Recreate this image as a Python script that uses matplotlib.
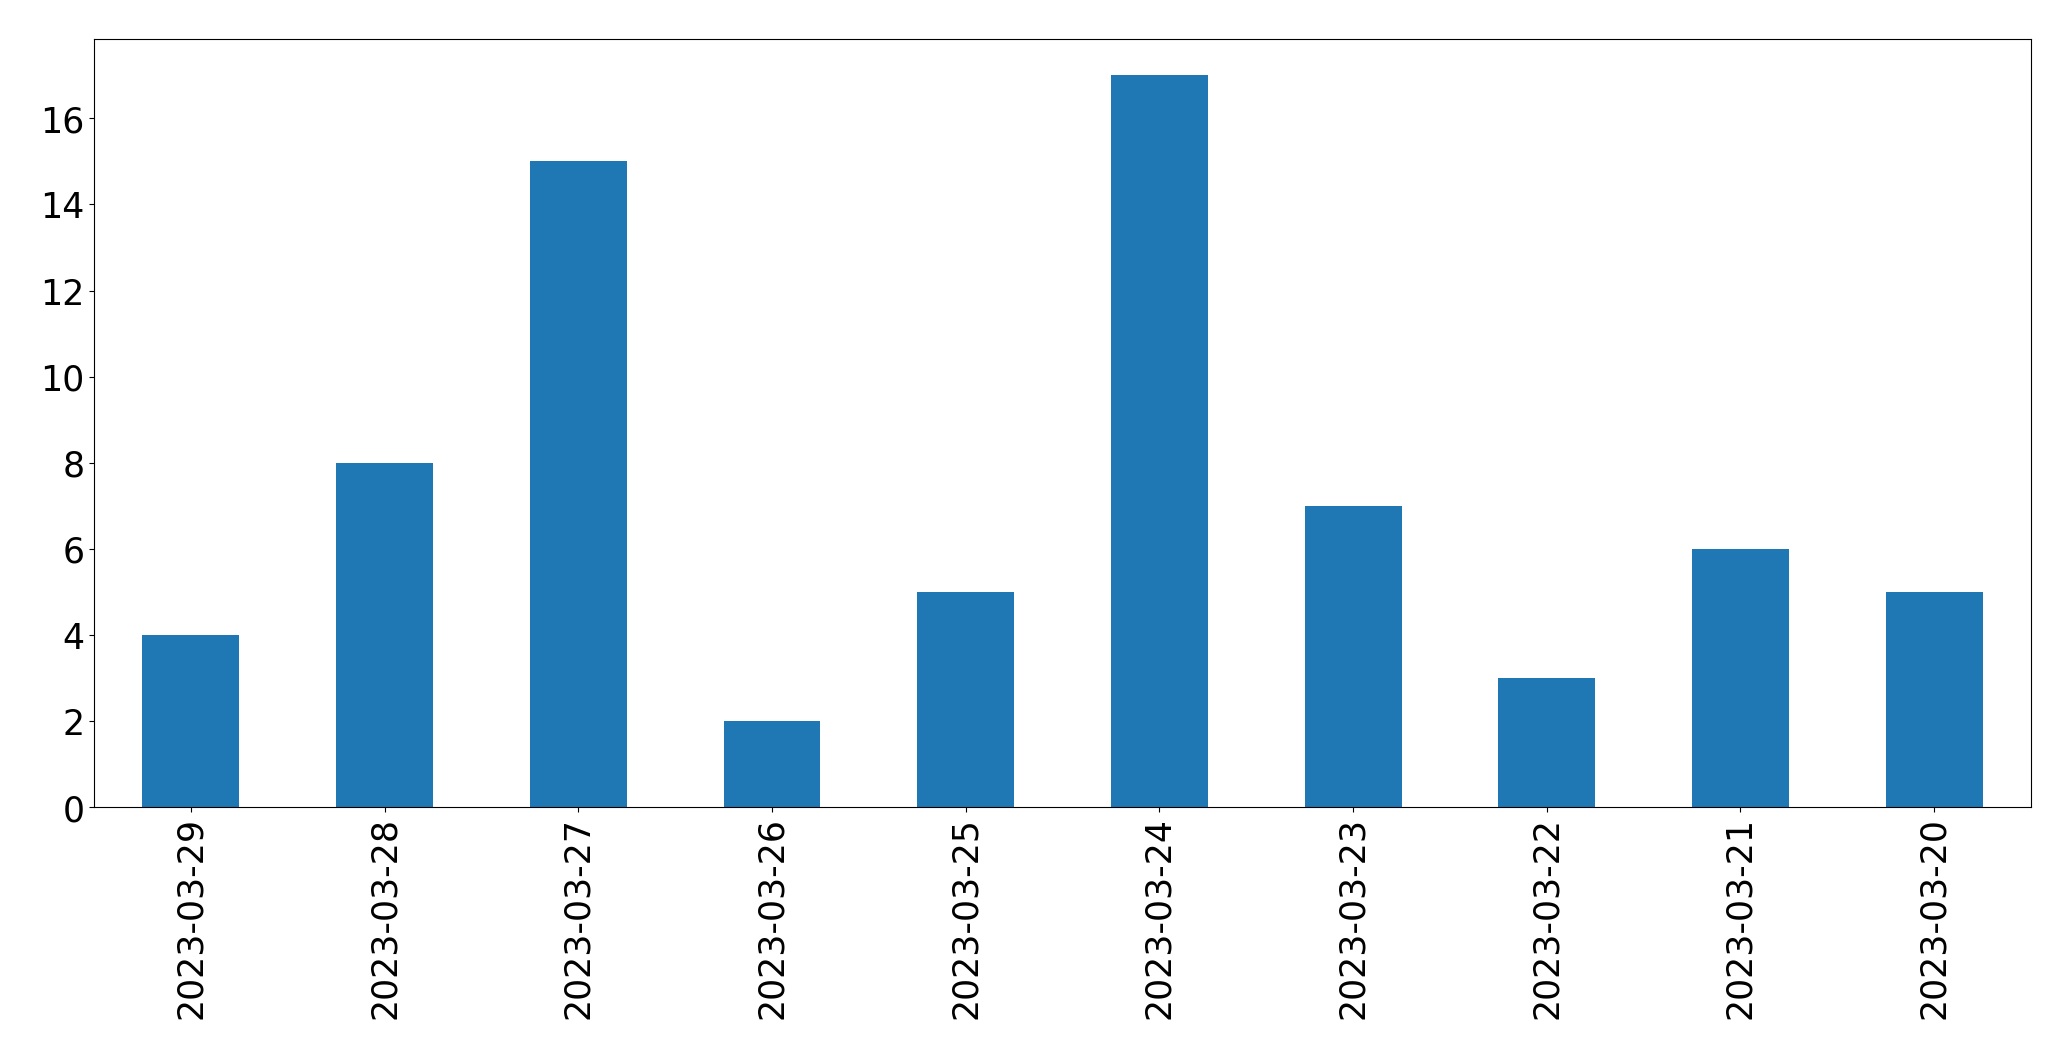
import matplotlib
matplotlib.use("Agg")
import matplotlib.pyplot as plt
import numpy as np

dates = ["2023-03-29", "2023-03-28", "2023-03-27", "2023-03-26", "2023-03-25",
         "2023-03-24", "2023-03-23", "2023-03-22", "2023-03-21", "2023-03-20"]
counts = [4, 8, 15, 2, 5, 17, 7, 3, 6, 5]

fig = plt.figure(figsize=(20.71, 10.605), dpi=100)
ax = fig.add_axes([0.0454, 0.2385, 0.9353, 0.7245])

x = np.arange(len(dates))
ax.bar(x, counts, 0.5, color="#1f77b4")
ax.set_xlim(-0.5, len(dates) - 0.5)
ax.set_ylim(0, max(counts) * 1.05)
ax.set_xticks(x)
ax.set_xticklabels(dates, rotation=90)
ax.tick_params(labelsize=25)

fig.savefig("out.png", dpi=100)
